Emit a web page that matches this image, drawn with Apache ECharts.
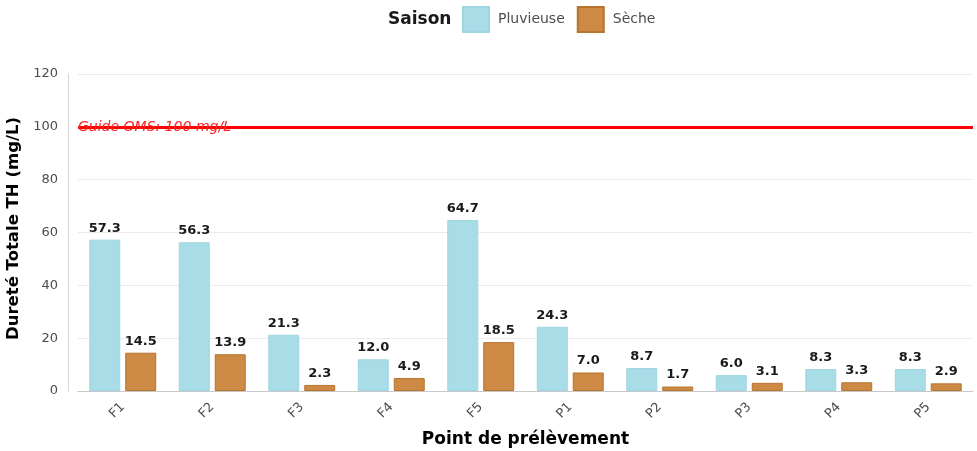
<!DOCTYPE html>
<html>
<head>
<meta charset="utf-8">
<script src="https://cdn.jsdelivr.net/npm/echarts@6/dist/echarts.min.js"></script>
<style>
  html, body { margin: 0; padding: 0; background: #fff; }
  #chart { width: 977px; height: 451px; }
</style>
</head>
<body>
<div id="chart"></div>
<script>
// data
const points = ["F1", "F2", "F3", "F4", "F5", "P1", "P2", "P3", "P4", "P5"];
const pluvieuse = [57.3, 56.3, 21.3, 12.0, 64.7, 24.3, 8.7, 6.0, 8.3, 8.3];
const seche = [14.5, 13.9, 2.3, 4.9, 18.5, 7.0, 1.7, 3.1, 3.3, 2.9];
const yTicks = [0, 20, 40, 60, 80, 100, 120];
const guideValue = 100;

const myChart = echarts.init(document.getElementById("chart"));

const FONT = "DejaVu Sans";

const labelStyle = {
    show: true,
    position: "top",
    distance: 5,
    fontFamily: FONT,
    fontWeight: "bold",
    fontSize: 13,
    color: "#1a1a1a",
    formatter: p => p.value.toFixed(1)
};

const option = {
    animation: false,
    title: {
        text: "Saison",
        left: 383,
        top: 6,
        textStyle: {
            fontFamily: FONT,
            fontWeight: "bold",
            fontSize: 17,
            color: "#1a1a1a"
        }
    },
    legend: {
        left: 457,
        top: 1,
        itemWidth: 26,
        itemHeight: 25,
        itemGap: 12,
        icon: "rect",
        textStyle: {
            fontFamily: FONT,
            fontSize: 14,
            color: "#4d4d4d",
            padding: [0, 0, 0, 4]
        },
        data: ["Pluvieuse", "Sèche"]
    },
    grid: {
        left: 78,
        right: 4,
        top: 74,
        bottom: 60,
        containLabel: false,
        outerBoundsMode: "none"
    },
    xAxis: {
        type: "category",
        data: points,
        name: "Point de prélèvement",
        nameLocation: "middle",
        nameGap: 40,
        nameTextStyle: {
            fontFamily: FONT,
            fontWeight: "bold",
            fontSize: 17,
            color: "#000"
        },
        axisLine: { lineStyle: { color: "#c8c8c8", width: 1 } },
        axisTick: { show: false },
        axisLabel: {
            rotate: 45,
            margin: 14,
            fontFamily: FONT,
            fontSize: 13,
            color: "#4d4d4d",
            padding: [0, 0, 0, 12]
        }
    },
    yAxis: {
        type: "value",
        min: yTicks[0],
        max: yTicks[yTicks.length - 1],
        interval: 20,
        offset: 10,
        name: "Dureté Totale TH (mg/L)",
        nameLocation: "middle",
        nameGap: 41,
        nameTextStyle: {
            fontFamily: FONT,
            fontWeight: "bold",
            fontSize: 16.5,
            color: "#000",
            padding: [0, 0, 0, 8]
        },
        axisLine: { show: true, lineStyle: { color: "#d6d6d6", width: 1 } },
        axisTick: { show: false },
        axisLabel: {
            margin: 10,
            fontFamily: FONT,
            fontSize: 13,
            color: "#4d4d4d"
        },
        splitLine: { lineStyle: { color: "#ebebeb", width: 1 } }
    },
    series: [
        {
            name: "Pluvieuse",
            type: "bar",
            barWidth: 31,
            barGap: "16%",
            itemStyle: { color: "#a8dce6", borderColor: "#9fd6e1", borderWidth: 1 },
            label: labelStyle,
            data: pluvieuse,
            markLine: {
                silent: true,
                symbol: "none",
                lineStyle: { color: "#ff0000", width: 3, type: "solid" },
                label: {
                    position: "insideStartTop",
                    distance: [0, -8],
                    formatter: "Guide OMS: 100 mg/L",
                    fontFamily: FONT,
                    fontStyle: "italic",
                    fontSize: 14,
                    color: "#ff2020"
                },
                data: [{ yAxis: guideValue }]
            }
        },
        {
            name: "Sèche",
            type: "bar",
            barWidth: 31,
            itemStyle: { color: "#cd8a45", borderColor: "#b8732f", borderWidth: 1 },
            label: labelStyle,
            data: seche
        }
    ]
};

myChart.setOption(option);
</script>
</body>
</html>
